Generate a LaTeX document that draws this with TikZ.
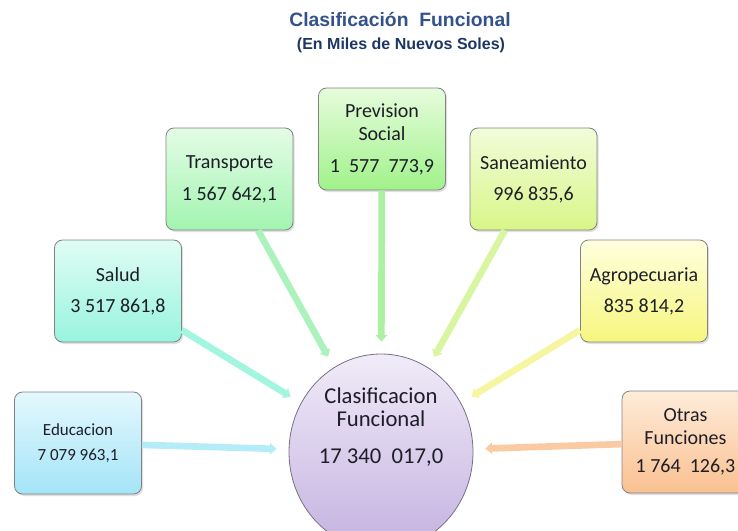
\documentclass[tikz,border=0pt]{standalone}
\usepackage{fontspec}
\setmainfont{Carlito}
\newfontfamily\titfont{Liberation Sans}
\usetikzlibrary{arrows.meta,shapes.geometric,shadows}
\definecolor{titblue}{RGB}{52,82,138}
\definecolor{subblue}{RGB}{30,54,100}
\definecolor{txt}{RGB}{30,30,40}
\definecolor{boxline}{RGB}{130,130,130}
\definecolor{hubline}{RGB}{120,112,132}
\definecolor{hubtop}{RGB}{240,235,248}
\definecolor{hubbot}{RGB}{196,178,224}
\definecolor{edutop}{RGB}{228,248,253}\definecolor{edubot}{RGB}{164,228,248}\definecolor{educon}{RGB}{180,236,248}
\definecolor{saltop}{RGB}{224,252,244}\definecolor{salbot}{RGB}{152,244,222}\definecolor{salcon}{RGB}{162,246,224}
\definecolor{tratop}{RGB}{228,252,230}\definecolor{trabot}{RGB}{162,244,176}\definecolor{tracon}{RGB}{172,242,188}
\definecolor{pretop}{RGB}{230,252,220}\definecolor{prebot}{RGB}{160,242,138}\definecolor{precon}{RGB}{172,240,162}
\definecolor{santop}{RGB}{242,252,218}\definecolor{sanbot}{RGB}{216,246,136}\definecolor{sancon}{RGB}{216,246,162}
\definecolor{agrtop}{RGB}{255,255,222}\definecolor{agrbot}{RGB}{246,246,126}\definecolor{agrcon}{RGB}{246,246,162}
\definecolor{otrtop}{RGB}{254,236,218}\definecolor{otrbot}{RGB}{250,192,144}\definecolor{otrcon}{RGB}{250,202,162}
\tikzset{%
    box/.style={rectangle, rounded corners=6pt, draw=boxline, line width=0.6pt, minimum width=95.25pt, minimum height=76.5pt, align=center, text=txt, font=\fontsize{15}{17.25}\selectfont, drop shadow={shadow xshift=1.2pt, shadow yshift=-1.5pt, opacity=0.25}},
    hub/.style={ellipse, draw=hubline, line width=0.6pt, minimum width=138pt, minimum height=147pt, inner sep=0pt, top color=hubtop, bottom color=hubbot},
    con/.style={line width=5pt, shorten >=9pt, -{Triangle[length=5pt, width=8.5pt]}},
    tit/.style={text=titblue, font=\titfont\bfseries\fontsize{14.5}{17}\selectfont},
    sub/.style={text=subblue, font=\titfont\bfseries\fontsize{12}{14}\selectfont}
}
\begin{document}
\begin{tikzpicture}[x=0.75pt,y=-0.75pt]
    \useasboundingbox (0,0) rectangle (738,531);
    \clip (0,0) rectangle (738,531);
    \node[tit] (title) at (400,20) {Clasificación\ \ Funcional};
    \node[sub] (subtitle) at (401,45) {(En Miles de Nuevos Soles)};
    \node[hub] (cf) at (381,452) {};
    \node[align=center, text=txt, font=\fontsize{17}{17.25}\selectfont] (cftxt) at (381,427) {Clasificacion\\Funcional\\[10.5pt]17 340~~017,0};
    \node[box, top color=edutop, bottom color=edubot, font=\fontsize{12.75}{15}\selectfont] (edu) at (78,443) {Educacion\\[3.75pt]7 079 963,1};
    \node[box, top color=saltop, bottom color=salbot] (sal) at (118,291) {Salud\\[6pt]3 517 861,8};
    \node[box, top color=tratop, bottom color=trabot] (tra) at (229.5,179) {Transporte\\[6.75pt]1 567 642,1};
    \node[box, top color=pretop, bottom color=prebot] (pre) at (382,139) {Prevision\\Social\\[6.75pt]1~~577~~773,9};
    \node[box, top color=santop, bottom color=sanbot] (san) at (533.5,179) {Saneamiento\\[6pt]996 835,6};
    \node[box, top color=agrtop, bottom color=agrbot] (agr) at (644,291) {Agropecuaria\\[6pt]835 814,2};
    \node[box, top color=otrtop, bottom color=otrbot] (otr) at (685.5,442) {Otras\\Funciones\\[3.75pt]1 764~~126,3};
    \draw[con, educon] (edu) -- (cf);
    \draw[con, salcon] (sal) -- (cf);
    \draw[con, tracon] (tra) -- (cf);
    \draw[con, precon] (pre) -- (cf);
    \draw[con, sancon] (san) -- (cf);
    \draw[con, agrcon] (agr) -- (cf);
    \draw[con, otrcon] (otr) -- (cf);
\end{tikzpicture}
\end{document}
